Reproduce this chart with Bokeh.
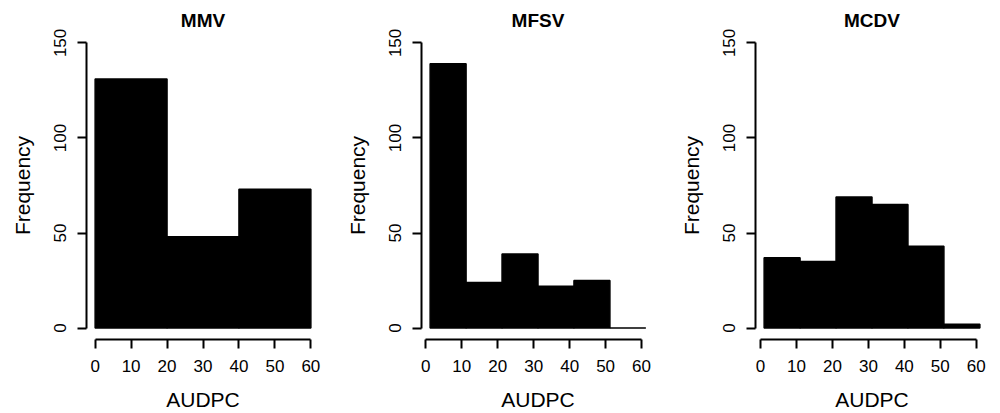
from bokeh.plotting import figure
from bokeh.layouts import row
from bokeh.models import Range1d, FixedTicker
from bokeh.embed import file_html
from bokeh.resources import INLINE

titles = ["MMV", "MFSV", "MCDV"]
mmv_edges = [0, 20, 40, 60]
mmv_counts = [131, 48, 73]
mfsv_edges = [1.2, 11.2, 21.2, 31.2, 41.2, 51.2, 61.2]
mfsv_counts = [139, 24, 39, 22, 25, 0]
mcdv_edges = [1, 11, 21, 31, 41, 51, 61]
mcdv_counts = [37, 35, 69, 65, 43, 2]
x_ticks = [0, 10, 20, 30, 40, 50, 60]
y_ticks = [0, 50, 100, 150]
x_label = "AUDPC"
y_label = "Frequency"

FONT = "Liberation Sans"
panels = [
    (titles[0], mmv_edges, mmv_counts, 334, 86),
    (titles[1], mfsv_edges, mfsv_counts, 333, 87),
    (titles[2], mcdv_edges, mcdv_counts, 333, 88),
]

figs = []
for title, edges, counts, w, bl in panels:
    lo, hi = edges[0], edges[-1]
    pad = 0.04 * (hi - lo)
    p = figure(width=w, height=413, output_backend="svg", toolbar_location=None,
               x_range=Range1d(lo - pad, hi + pad), y_range=Range1d(-6, 156),
               min_border_left=bl, min_border_right=w - bl - 233,
               min_border_top=31, min_border_bottom=74, title=title)
    p.quad(left=edges[:-1], right=edges[1:], bottom=0, top=counts,
           fill_color="black", line_color="black", line_width=1.5)
    p.outline_line_color = None
    p.grid.visible = False
    p.background_fill_color = "white"
    p.border_fill_color = "white"
    p.title.align = "center"
    p.title.text_font = FONT
    p.title.text_font_size = "19px"
    p.title.text_font_style = "bold"
    p.title.text_color = "black"
    p.title.standoff = 1
    for ax in (p.xaxis[0], p.yaxis[0]):
        ax.axis_line_width = 2
        ax.axis_line_color = "black"
        ax.major_tick_line_width = 2
        ax.major_tick_line_color = "black"
        ax.major_tick_in = 0
        ax.major_tick_out = 9
        ax.minor_tick_line_color = None
        ax.major_label_text_font = FONT
        ax.major_label_text_font_size = "17px"
        ax.major_label_text_color = "black"
        ax.axis_label_text_font = FONT
        ax.axis_label_text_font_size = "21px"
        ax.axis_label_text_font_style = "normal"
        ax.axis_label_text_color = "black"
    p.xaxis.ticker = FixedTicker(ticks=x_ticks)
    p.xaxis.bounds = (x_ticks[0], x_ticks[-1])
    p.xaxis.axis_label = x_label
    p.xaxis.major_label_standoff = 11
    p.xaxis.axis_label_standoff = 13
    p.yaxis.ticker = FixedTicker(ticks=y_ticks)
    p.yaxis.bounds = (y_ticks[0], y_ticks[-1])
    p.yaxis.axis_label = y_label
    p.yaxis.major_label_orientation = "vertical"
    p.yaxis.major_label_standoff = 11
    p.yaxis.axis_label_standoff = 18
    figs.append(p)

layout = row(*figs, spacing=0)
open("out.html", "w").write(file_html(layout, INLINE))
